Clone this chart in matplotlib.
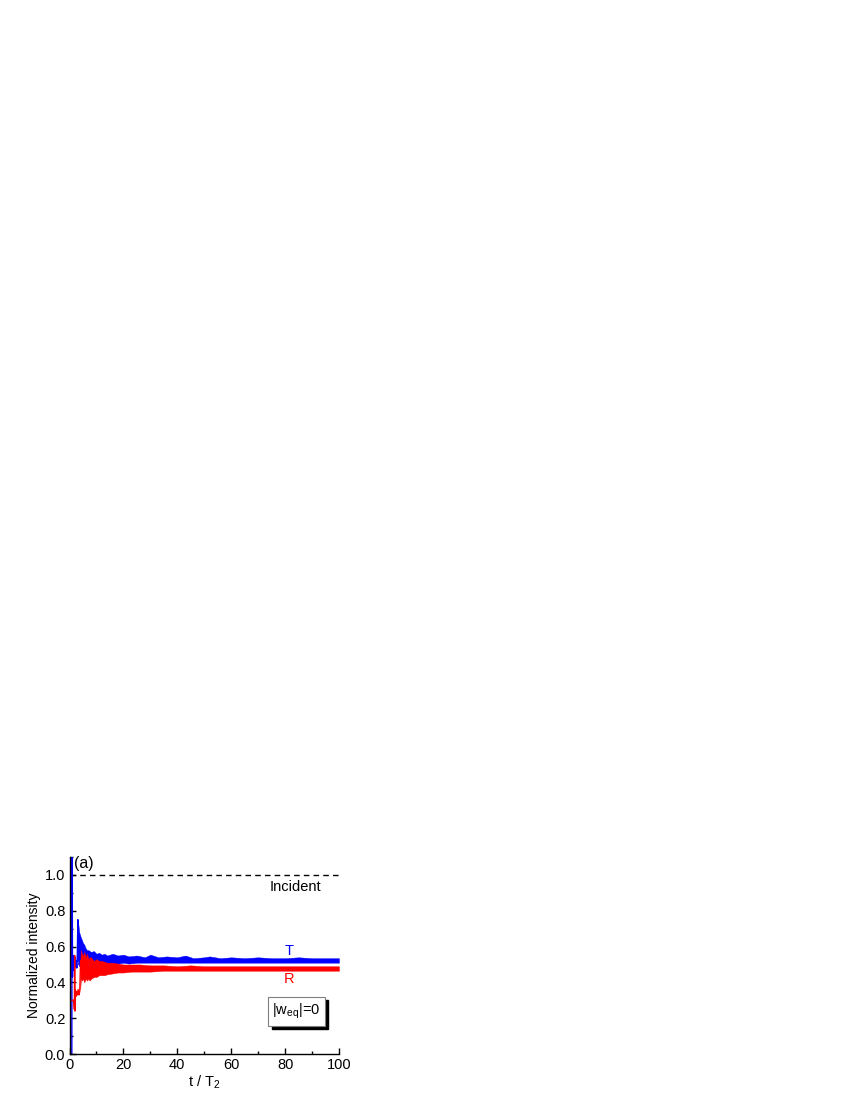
import matplotlib
matplotlib.use("Agg")
import matplotlib.pyplot as plt
from matplotlib.patches import Rectangle
from matplotlib.ticker import MultipleLocator, FormatStrFormatter

plt.rcParams['font.family'] = ['Liberation Sans', 'DejaVu Sans']
plt.rcParams['mathtext.fontset'] = 'custom'
plt.rcParams['mathtext.rm'] = 'Liberation Sans'
plt.rcParams['mathtext.it'] = 'Liberation Sans'

# incident level
incident_level = 1.0

# transmitted (T) early transient, then envelope of the fast oscillation
t_T_early = [0.85, 0.95, 1.1, 1.3, 1.5, 1.7, 1.9, 2.1, 2.3, 2.5, 2.7, 2.9, 3.1, 3.25]
T_early = [0.0, 1.3, 0.43, 0.55, 0.47, 0.53, 0.48, 0.54, 0.49, 0.52, 0.48, 0.56, 0.75, 0.52]

t_env_T = [3.1, 3.3, 3.6, 4.0, 4.5, 5.0, 5.5, 6.0, 6.5, 7.0, 8.0, 9.0, 10.0, 11.0, 12.0,
           13.0, 14.0, 16.0, 18.0, 20.0, 22.0, 25.0, 28.0, 30.0, 33.0, 36.0, 40.0, 43.0,
           46.0, 50.0, 52.0, 56.0, 60.0, 65.0, 70.0, 75.0, 80.0, 85.0, 90.0, 95.0, 100.0]
T_hi = [0.75, 0.72, 0.68, 0.66, 0.64, 0.62, 0.61, 0.59, 0.58, 0.58, 0.57, 0.575, 0.56, 0.565, 0.555,
        0.56, 0.55, 0.56, 0.55, 0.555, 0.545, 0.55, 0.54, 0.555, 0.54, 0.545, 0.54, 0.55,
        0.535, 0.54, 0.545, 0.535, 0.54, 0.535, 0.54, 0.535, 0.535, 0.54, 0.535, 0.535, 0.535]
T_lo = [0.50, 0.50, 0.49, 0.49, 0.50, 0.49, 0.50, 0.49, 0.50, 0.50, 0.50, 0.50, 0.50, 0.505, 0.50,
        0.505, 0.505, 0.505, 0.505, 0.51, 0.505, 0.51, 0.51, 0.51, 0.51, 0.51, 0.51, 0.51,
        0.51, 0.51, 0.51, 0.51, 0.51, 0.51, 0.51, 0.51, 0.51, 0.51, 0.51, 0.51, 0.51]

# reflected (R) early transient, then envelope
t_R_early = [0.15, 0.15, 0.3, 0.3, 1.6, 1.8, 1.9, 2.0, 2.1, 2.3, 2.6, 2.9, 3.2, 3.5, 3.8, 4.1]
R_early = [0.0, 0.43, 0.43, 0.30, 0.30, 0.25, 0.55, 0.24, 0.36, 0.32, 0.35, 0.33, 0.36, 0.33, 0.35, 0.52]

t_env_R = [4.0, 4.2, 4.6, 5.0, 5.5, 6.0, 6.5, 7.0, 7.5, 8.0, 9.0, 10.0, 11.0, 12.0, 13.0,
           14.0, 16.0, 18.0, 20.0, 23.0, 26.0, 30.0, 35.0, 40.0, 45.0, 50.0, 55.0, 60.0,
           65.0, 70.0, 75.0, 80.0, 85.0, 90.0, 95.0, 100.0]
R_hi = [0.52, 0.58, 0.56, 0.55, 0.57, 0.54, 0.56, 0.53, 0.54, 0.54, 0.52, 0.53, 0.52, 0.52, 0.515,
        0.51, 0.51, 0.505, 0.50, 0.50, 0.50, 0.495, 0.495, 0.49, 0.495, 0.49, 0.49, 0.49,
        0.49, 0.49, 0.49, 0.49, 0.49, 0.49, 0.49, 0.49]
R_lo = [0.36, 0.42, 0.41, 0.42, 0.40, 0.42, 0.41, 0.42, 0.41, 0.42, 0.43, 0.43, 0.44, 0.44, 0.44,
        0.445, 0.45, 0.455, 0.455, 0.46, 0.46, 0.46, 0.465, 0.465, 0.465, 0.465, 0.465, 0.465,
        0.465, 0.465, 0.465, 0.465, 0.465, 0.465, 0.465, 0.465]

fig = plt.figure(figsize=(8.5, 11), dpi=100)
ax = fig.add_axes([0.0818, 0.0418, 0.3170, 0.1791])

# incident
ax.axhline(incident_level, color='black', linestyle=(0, (4, 3)), linewidth=1.0)

# T
ax.plot(t_T_early, T_early, color='#0000ff', linewidth=1.0)
ax.fill_between(t_env_T, T_lo, T_hi, color='#0000ff', linewidth=0.3, edgecolor='#0000ff')

# R
ax.plot(t_R_early, R_early, color='#ff0000', linewidth=1.0)
ax.fill_between(t_env_R, R_lo, R_hi, color='#ff0000', linewidth=0.3, edgecolor='#ff0000')

ax.set_xlim(0, 100)
ax.set_ylim(0, 1.1)
ax.xaxis.set_major_locator(MultipleLocator(20))
ax.xaxis.set_minor_locator(MultipleLocator(10))
ax.yaxis.set_major_locator(MultipleLocator(0.2))
ax.yaxis.set_minor_locator(MultipleLocator(0.1))
ax.yaxis.set_major_formatter(FormatStrFormatter('%.1f'))
ax.tick_params(which='both', direction='in', labelsize=10.5, width=1.0, pad=3)
ax.tick_params(which='major', length=4)
ax.tick_params(which='minor', length=2)
ax.spines['top'].set_visible(False)
ax.spines['right'].set_visible(False)
ax.spines['left'].set_linewidth(1.0)
ax.spines['bottom'].set_linewidth(1.0)

ax.set_xlabel('t / T$_2$', fontsize=10.5, labelpad=1)
ax.set_ylabel('Normalized intensity', fontsize=10, labelpad=3)

ax.text(1.5, 1.065, '(a)', fontsize=11.5, va='center', ha='left')
ax.text(84, 0.93, 'Incident', fontsize=10.5, va='center', ha='center')
ax.text(81.5, 0.575, 'T', fontsize=10.5, color='#0000ff', va='center', ha='center')
ax.text(81.5, 0.42, 'R', fontsize=10.5, color='#ff0000', va='center', ha='center')

# label box with shadow
ax.add_patch(Rectangle((75.0, 0.139), 21.1, 0.162, facecolor='black', edgecolor='black', zorder=4))
ax.add_patch(Rectangle((73.7, 0.156), 21.1, 0.162, facecolor='white', edgecolor='#808080',
                       linewidth=0.8, zorder=5))
ax.text(84.2, 0.237, '|w$_\\mathregular{eq}$|=0', fontsize=10.5, va='center', ha='center', zorder=6)

fig.savefig('out.png', dpi=100)
